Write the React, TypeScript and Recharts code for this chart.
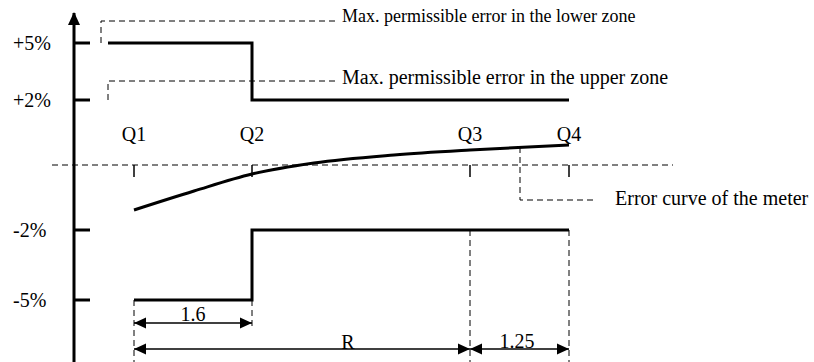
import React from 'react';
import { ComposedChart, Line, XAxis, YAxis, ReferenceLine, ReferenceDot } from 'recharts';

const FONT = 'Liberation Serif, serif';

// flow positions of the four reference flow rates (schematic units)
const qLabels = ['Q1', 'Q2', 'Q3', 'Q4'];
const qPos = [60, 178, 396, 495];

// error levels on the vertical axis (schematic units, 0 = no error)
const yTickLabels = ['+5%', '+2%', '-2%', '-5%'];
const yTickPos = [122, 65, -65, -135];

const upperLimit = [
  { x: 34, y: 122 },
  { x: 178, y: 122 },
  { x: 178, y: 65 },
  { x: 495, y: 65 },
];

const lowerLimit = [
  { x: 60, y: -135 },
  { x: 178, y: -135 },
  { x: 178, y: -65 },
  { x: 495, y: -65 },
];

const errorCurve = [
  { x: 60, y: -45 },
  { x: 120, y: -26 },
  { x: 178, y: -9 },
  { x: 240, y: 2 },
  { x: 320, y: 10 },
  { x: 396, y: 15 },
  { x: 495, y: 20 },
];

// dashed leader lines to the notes
const lowerZoneLeader = [
  { x: 27, y: 122 },
  { x: 27, y: 144 },
  { x: 261, y: 144 },
];
const upperZoneLeader = [
  { x: 34, y: 65 },
  { x: 34, y: 84 },
  { x: 261, y: 84 },
];
const curveLeader = [
  { x: 446, y: 18 },
  { x: 446, y: -35 },
  { x: 523, y: -35 },
];

// dashed extension lines below Q1..Q4
const extFrom = [-135, -135, -65, -65];
const extTo = [-197, -165, -197, -197];

const dimensions = [
  { label: '1.6', from: 60, to: 178, level: -158, tx: 119, ty: -149 },
  { label: 'R', from: 60, to: 396, level: -184, tx: 274, ty: -177 },
  { label: '1.25', from: 396, to: 495, level: -184, tx: 443, ty: -176 },
];

const notes = [
  { text: 'Max. permissible error in the lower zone', x: 268, y: 149, size: 18 },
  { text: 'Max. permissible error in the upper zone', x: 268, y: 88, size: 20 },
  { text: 'Error curve of the meter', x: 541, y: -33, size: 20 },
];

function YTick(props: any) {
  const { x, y, payload } = props;
  const label = yTickLabels[yTickPos.indexOf(payload.value)];
  return (
    <g>
      <line x1={x + 24} x2={x + 40} y1={y} y2={y} stroke="#000" strokeWidth={3} />
      <text x={x - 37} y={y} dy="0.35em" textAnchor="start" fontSize={20} fill="#000" style={{ fontFamily: FONT }}>
        {label}
      </text>
    </g>
  );
}

function arrowDot(props: any) {
  const { cx, cy, index } = props;
  const dir = index === 0 ? -1 : 1;
  const pts = `${cx},${cy} ${cx - dir * 12},${cy - 5.5} ${cx - dir * 12},${cy + 5.5}`;
  return <polygon key={`a-${index}-${cx}`} points={pts} fill="#000" />;
}

function axisArrow(props: any) {
  const { cx, cy } = props;
  return <polygon points={`${cx},${cy - 1} ${cx - 6},${cy + 12} ${cx + 6},${cy + 12}`} fill="#000" />;
}

const dashed = { stroke: '#000', strokeWidth: 1, strokeDasharray: '6 4' };
const labelStyle = { fontFamily: FONT };

export default function App() {
  return (
    <div style={{ position: 'absolute', left: 0, top: 0, width: 814, height: 362, background: '#fff', fontFamily: FONT }}>
      <ComposedChart width={814} height={362} margin={{ top: 13, right: 0, bottom: 0, left: 0 }} style={{ fontFamily: FONT }}>
        <XAxis type="number" dataKey="x" domain={[0, 740]} hide allowDataOverflow />
        <YAxis
          type="number"
          domain={[-197, 152]}
          ticks={yTickPos}
          interval={0}
          width={74}
          tickSize={0}
          tickMargin={24}
          tickLine={false}
          axisLine={{ stroke: '#000', strokeWidth: 3 }}
          tick={<YTick />}
          allowDataOverflow
        />

        <ReferenceLine
          segment={[{ x: -22, y: 0 }, { x: 599, y: 0 }]}
          ifOverflow="visible"
          {...dashed}
        />

        {qPos.map((q, i) => (
          <Line
            key={`tick-${i}`}
            data={[{ x: q, y: 0 }, { x: q, y: -12 }]}
            dataKey="y"
            stroke="#000"
            strokeWidth={1.5}
            dot={false}
            activeDot={false}
            isAnimationActive={false}
          />
        ))}

        {qPos.map((q, i) => (
          <Line
            key={`ext-${i}`}
            data={[{ x: q, y: extFrom[i] }, { x: q, y: extTo[i] }]}
            dataKey="y"
            {...dashed}
            dot={false}
            activeDot={false}
            isAnimationActive={false}
          />
        ))}

        {[lowerZoneLeader, upperZoneLeader, curveLeader].map((d, i) => (
          <Line
            key={`lead-${i}`}
            data={d}
            dataKey="y"
            {...dashed}
            dot={false}
            activeDot={false}
            isAnimationActive={false}
          />
        ))}

        <Line data={upperLimit} dataKey="y" type="linear" stroke="#000" strokeWidth={3} dot={false} activeDot={false} isAnimationActive={false} />
        <Line data={lowerLimit} dataKey="y" type="linear" stroke="#000" strokeWidth={3} dot={false} activeDot={false} isAnimationActive={false} />
        <Line data={errorCurve} dataKey="y" type="monotone" stroke="#000" strokeWidth={3} dot={false} activeDot={false} isAnimationActive={false} />

        {dimensions.map((d) => (
          <Line
            key={`dim-${d.label}`}
            data={[{ x: d.from, y: d.level }, { x: d.to, y: d.level }]}
            dataKey="y"
            stroke="#000"
            strokeWidth={1.5}
            dot={arrowDot}
            activeDot={false}
            isAnimationActive={false}
          />
        ))}

        {dimensions.map((d) => (
          <ReferenceDot
            key={`dl-${d.label}`}
            x={d.tx}
            y={d.ty}
            r={0}
            fill="none"
            stroke="none"
            ifOverflow="visible"
            label={{ value: d.label, position: 'center', fontSize: 20, fill: '#000', style: labelStyle }}
          />
        ))}

        {qPos.map((q, i) => (
          <ReferenceDot
            key={`ql-${i}`}
            x={q}
            y={31}
            r={0}
            fill="none"
            stroke="none"
            ifOverflow="visible"
            label={{ value: qLabels[i], position: 'center', fontSize: 20, fill: '#000', style: labelStyle }}
          />
        ))}

        {notes.map((n, i) => (
          <ReferenceDot
            key={`note-${i}`}
            x={n.x}
            y={n.y}
            r={0}
            fill="none"
            stroke="none"
            ifOverflow="visible"
            label={{ value: n.text, position: 'right', offset: 0, fontSize: n.size, fill: '#000', style: labelStyle }}
          />
        ))}

        <ReferenceDot x={0} y={152} r={6} ifOverflow="visible" shape={axisArrow} />
      </ComposedChart>
    </div>
  );
}
